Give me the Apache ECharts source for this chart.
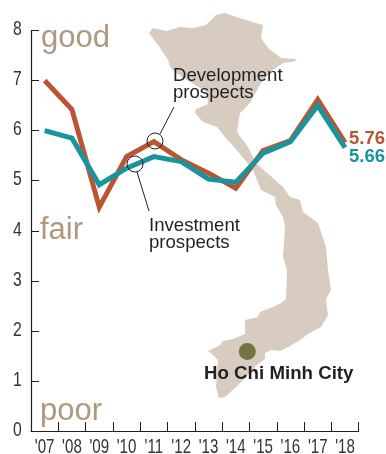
<!DOCTYPE html>
<html><head><meta charset="utf-8">
<script src="https://cdn.jsdelivr.net/npm/echarts@6/dist/echarts.min.js"></script>
<style>html,body{margin:0;padding:0;background:#fff}#c{width:386px;height:454px}</style>
</head><body><div id="c"></div>
<script>
const categories = ["'07","'08","'09","'10","'11","'12","'13","'14","'15","'16","'17","'18"];
const development = [7.0, 6.42, 4.47, 5.48, 5.78, 5.42, 5.15, 4.85, 5.6, 5.8, 6.62, 5.76];
const investment = [6.0, 5.85, 4.92, 5.25, 5.48, 5.38, 5.03, 4.97, 5.55, 5.78, 6.5, 5.66];
const yTicks = [0,1,2,3,4,5,6,7,8];
const mapOutline = [[149,33],[153,28],[167,31],[180,27],[193,28],[206,25],[216,15],[225,13],[236,17],[256,23],[263,25],[261,38],[268,48],[281,58],[295,59],[296,61],[283,63],[270,72],[261,83],[250,103],[240,113],[237,132],[248,147],[256,163],[283,187],[290,197],[300,200],[303,212],[318,223],[326,247],[328,270],[331,290],[326,299],[328,315],[321,327],[308,334],[300,340],[290,346],[280,351],[271,350],[265,353],[265,359],[258,364],[243,380],[236,387],[225,397],[219,398],[216,387],[218,360],[213,355],[208,351],[220,345],[223,341],[233,339],[245,334],[245,320],[258,317],[260,312],[273,307],[281,303],[286,299],[287,270],[283,257],[285,227],[283,217],[276,205],[275,197],[261,190],[253,170],[235,148],[225,137],[217,127],[203,122],[195,113],[196,109],[208,104],[207,92],[190,82],[175,72],[170,67],[168,60],[160,48]];
const sans = '"Liberation Sans", Arial, sans-serif';
const chart = echarts.init(document.getElementById('c'));
const text = (x,y,t,size,color,extra) => ({type:'text',left:x,top:y,z:20,style:Object.assign({text:t,fontSize:size,fill:color,fontFamily:sans},extra||{})});
const circle = (x,y) => ({type:'circle',shape:{cx:x,cy:y,r:8},z:15,style:{fill:'transparent',stroke:'#231f20',lineWidth:1}});
const line = (a,b,c,d) => ({type:'line',shape:{x1:a,y1:b,x2:c,y2:d},z:15,style:{stroke:'#231f20',lineWidth:1}});
const narrowLabel = (x,y,t,sx) => ({type:'text',x:x,y:y,scaleX:sx,z:20,style:{text:t,fontSize:21,fill:'#333',fontFamily:sans,align:'center',verticalAlign:'middle'}});
chart.setOption({
  animation:false,
  backgroundColor:'#fff',
  grid:{left:31,right:27.3,top:30.5,bottom:23,containLabel:false},
  xAxis:{type:'category',data:categories,boundaryGap:true,
    axisLine:{lineStyle:{color:'#231f20',width:1.2}},
    axisTick:{show:true,inside:true,length:9,alignWithLabel:false,lineStyle:{color:'#231f20',width:1}},
    axisLabel:{show:false}},
  yAxis:{type:'value',min:0,max:8,interval:1,
    axisLine:{show:true,lineStyle:{color:'#231f20',width:1.2}},
    axisTick:{show:true,inside:true,length:8,lineStyle:{color:'#231f20',width:1}},
    splitLine:{show:false},
    axisLabel:{show:false}},
  series:[
    {name:'Development prospects',type:'line',data:development,showSymbol:false,symbol:'none',z:5,lineStyle:{color:'#bb5433',width:5,join:'miter',cap:'butt'}},
    {name:'Investment prospects',type:'line',data:investment,showSymbol:false,symbol:'none',z:6,lineStyle:{color:'#18949f',width:5,join:'miter',cap:'butt'}}
  ]
});
const xLabels = categories.map((c,i)=>narrowLabel(chart.convertToPixel({xAxisIndex:0},i),447,c,0.72));
const yLabels = yTicks.map(v=>narrowLabel(17.5,chart.convertToPixel({yAxisIndex:0},v)-1,String(v),0.75));
chart.setOption({graphic:[
    {type:'polygon',shape:{points:mapOutline},z:-1,silent:true,style:{fill:'#d8ccc0'}},
    {type:'circle',shape:{cx:247.3,cy:351.5,r:8.5},z:15,style:{fill:'#767342'}},
    text(41,23,'good',31,'#ae9880'),
    text(40,215,'fair',31,'#ae9880'),
    text(40,396,'poor',31,'#ae9880'),
    text(173,66,'Development\nprospects',18.6,'#231f20',{lineHeight:17}),
    text(149,216,'Investment\nprospects',18.6,'#231f20',{lineHeight:17}),
    text(204,364,'Ho Chi Minh City',18.7,'#231f20',{fontWeight:'bold'}),
    text(349,129,'5.76',18.5,'#bb5433',{fontWeight:'bold'}),
    text(349,147,'5.66',18.5,'#18949f',{fontWeight:'bold'}),
    circle(155,141), circle(135,164),
    line(160,134,174,107), line(137,172,149,211)
  ].concat(xLabels,yLabels)});
</script></body></html>
